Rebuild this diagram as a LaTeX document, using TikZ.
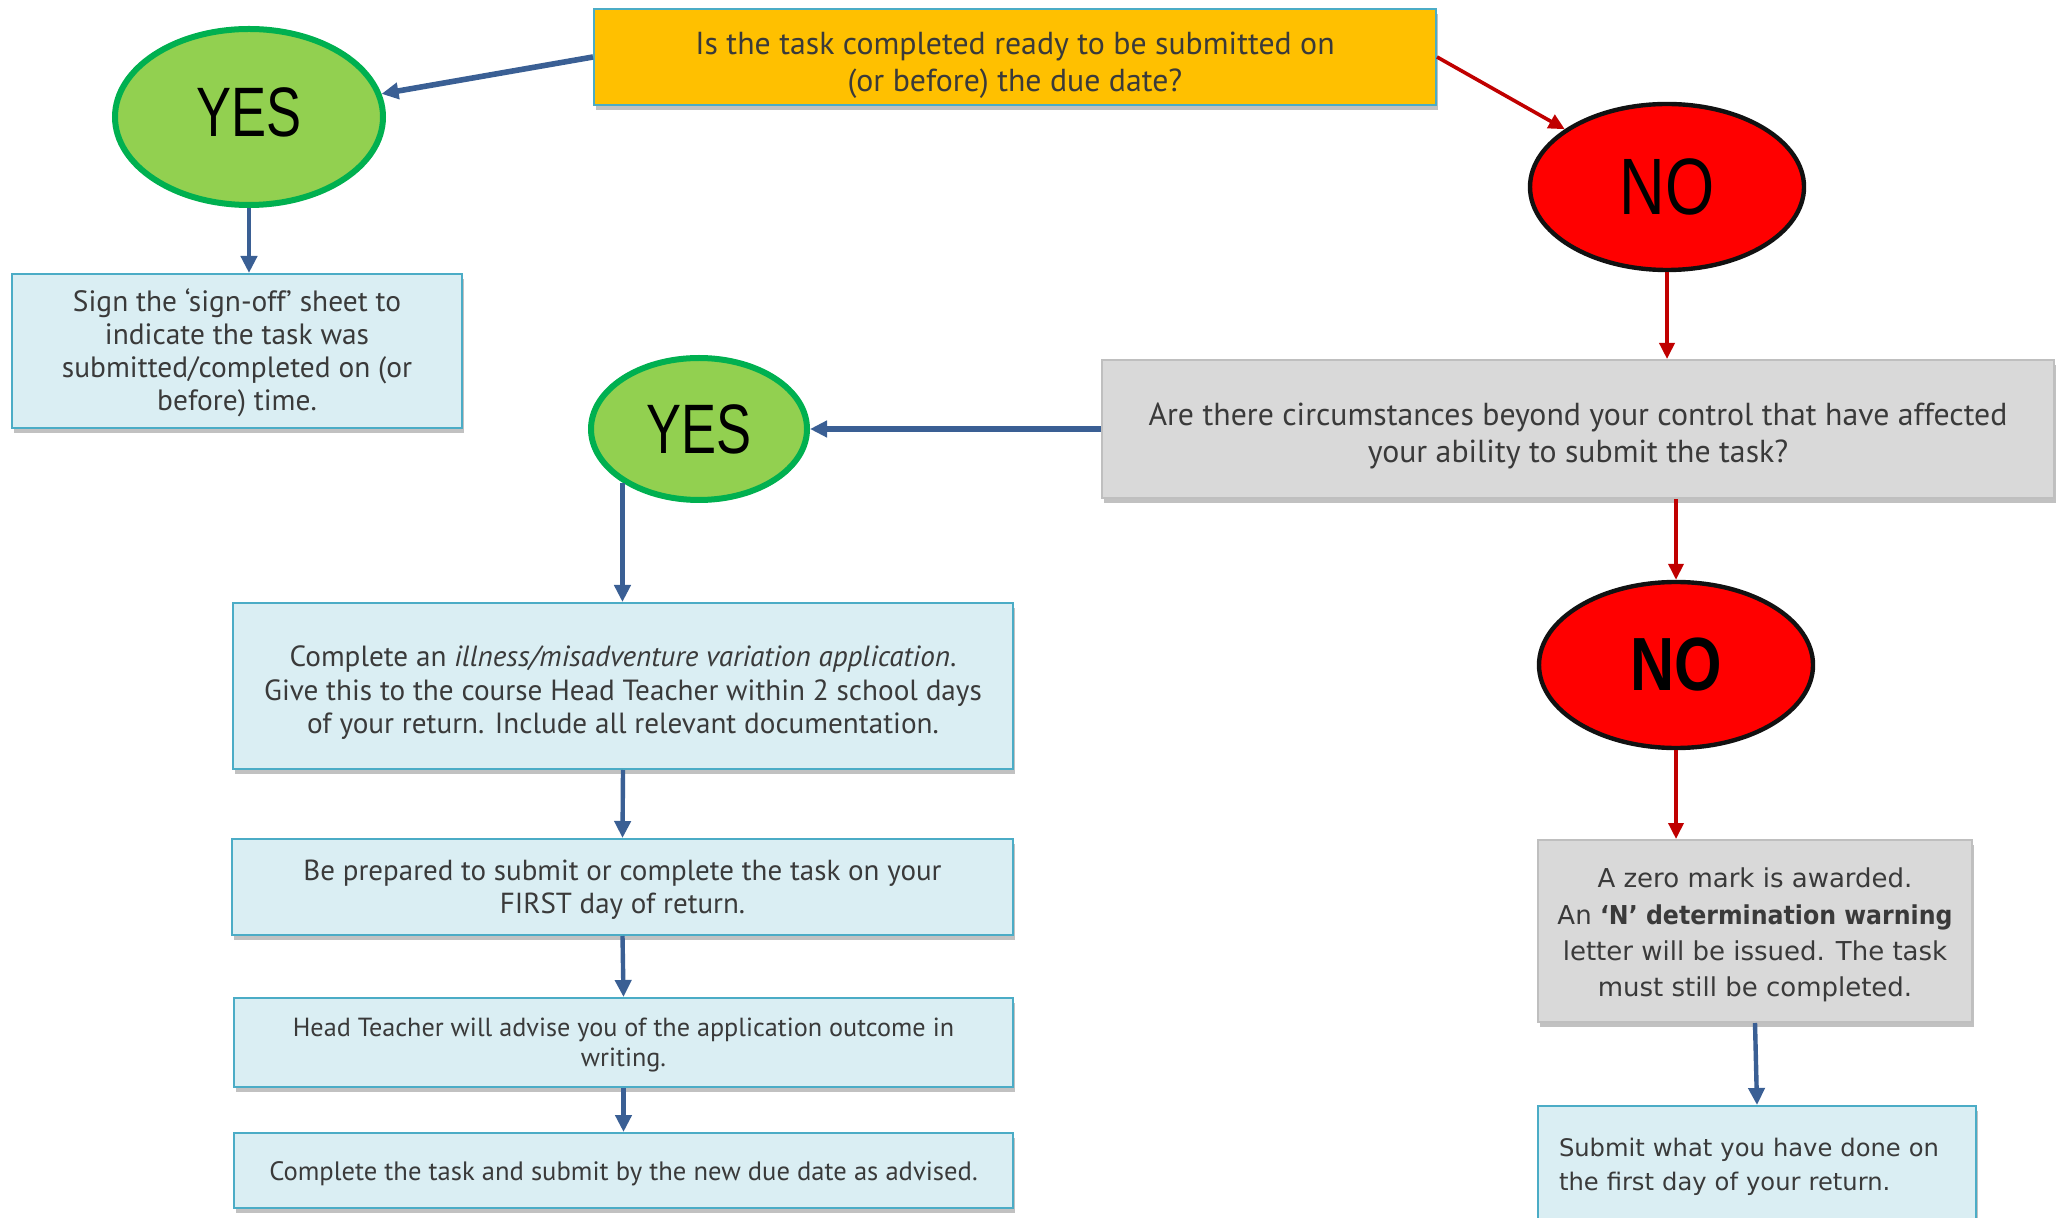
\documentclass[tikz,border=0pt]{standalone}
\usepackage{fontspec}
\usepackage{graphicx}
\setmainfont{PT Sans}
\newfontfamily\verd{DejaVu Sans}
\newfontfamily\arialf{Liberation Sans}
\usetikzlibrary{arrows.meta,shapes.geometric,shadows}
\definecolor{txt}{HTML}{3A3A3A}
\definecolor{qfill}{HTML}{FFC000}
\definecolor{bfill}{HTML}{DAEEF3}
\definecolor{bborder}{HTML}{4BACC6}
\definecolor{gfill}{HTML}{D9D9D9}
\definecolor{gborder}{HTML}{BFBFBF}
\definecolor{lgreen}{HTML}{92D050}
\definecolor{dgreen}{HTML}{00B050}
\definecolor{nred}{HTML}{FF0000}
\definecolor{nblack}{HTML}{111111}
\definecolor{arrblue}{HTML}{3A5F94}
\definecolor{arrred}{HTML}{C00000}
\tikzset{
  box/.style={draw, line width=1pt, align=center, text=txt, inner sep=0pt,
    drop shadow={shadow xshift=1pt, shadow yshift=-2.5pt, opacity=0.35, fill=black!70}},
  bluebox/.style={box, fill=bfill, draw=bborder},
  graybox/.style={box, fill=gfill, draw=gborder},
  yesell/.style={ellipse, draw=dgreen, fill=lgreen, line width=3pt, inner sep=0pt, text=black,
    font=\arialf\fontsize{35}{35}\selectfont},
  noell/.style={ellipse, draw=nblack, fill=nred, line width=2.2pt, inner sep=0pt, text=black},
  barrow/.style={draw=arrblue, line width=2.2pt, -{Triangle[length=8.5pt,width=8pt]}},
  rarrow/.style={draw=arrred, line width=1.8pt, -{Triangle[length=8pt,width=7.5pt]}}
}
\begin{document}
\begin{tikzpicture}[x=0.5pt,y=-0.5pt]
\useasboundingbox (0,0) rectangle (2065,1218);

\node[box, fill=qfill, draw=bborder, minimum width=421pt, minimum height=48pt,
  font=\fontsize{15.9}{18.5}\selectfont] (q1) at (1015,57)
  {\rule{0pt}{19.5pt}Is the task completed ready to be submitted on\\(or before) the due date?};

\node[yesell, minimum width=134pt, minimum height=88pt] (yes1) at (249,117)
  {\raisebox{5pt}{\scalebox{0.75}[1]{YES}}};

\node[bluebox, minimum width=225pt, minimum height=77pt,
  font=\fontsize{14.7}{16.5}\selectfont] (sign) at (237,351)
  {\rule{0pt}{13.6pt}Sign the ‘sign-off’ sheet to\\indicate the task was\\submitted/completed on (or\\before) time.};

\node[noell, minimum width=137pt, minimum height=83pt,
  font=\arialf\fontsize{40}{40}\selectfont] (no1) at (1667,187)
  {\scalebox{0.79}[1]{NO}};

\node[graybox, minimum width=476pt, minimum height=69pt,
  font=\fontsize{15.9}{18.5}\selectfont] (q2) at (1578,429)
  {\rule{0pt}{18.5pt}Are there circumstances beyond your control that have affected\\your ability to submit the task?};

\node[yesell, minimum width=108pt, minimum height=71pt] (yes2) at (699,429)
  {\scalebox{0.75}[1]{YES}};

\node[noell, minimum width=137pt, minimum height=83pt,
  font=\arialf\bfseries\fontsize{37.7}{38}\selectfont] (no2) at (1676,665)
  {\scalebox{0.81}[1]{NO}};

\node[graybox, minimum width=217pt, minimum height=91pt,
  font=\verd\fontsize{13}{18.2}\selectfont] (zero) at (1755,931)
  {\rule{0pt}{14pt}A zero mark is awarded.\\An \scalebox{0.91}[1]{\textbf{‘N’ determination warning}}\\letter will be issued. The task\\must still be completed.};

\node[bluebox, text width=198pt, align=left, inner xsep=10.5pt, minimum height=58pt,
  font=\verd\fontsize{12.1}{17}\selectfont] (submit) at (1757,1164)
  {\rule{0pt}{12pt}Submit what you have done on\\the first day of your return.};

\node[bluebox, minimum width=390pt, minimum height=83pt,
  font=\fontsize{14.6}{16.8}\selectfont] (comp) at (623,686)
  {\rule{0pt}{17pt}Complete an \textit{illness/misadventure variation application}.\\Give this to the course Head Teacher within 2 school days\\of your return. Include all relevant documentation.};

\node[bluebox, minimum width=390.5pt, minimum height=48pt,
  font=\fontsize{14.5}{16.5}\selectfont] (prep) at (622.5,887)
  {\rule{0pt}{13pt}Be prepared to submit or complete the task on your\\FIRST day of return.};

\node[bluebox, minimum width=389.5pt, minimum height=44.5pt,
  font=\fontsize{13.1}{15}\selectfont] (head) at (623.5,1042.5)
  {\rule{0pt}{12pt}Head Teacher will advise you of the application outcome in\\writing.};

\node[bluebox, minimum width=389.5pt, minimum height=37.5pt,
  font=\fontsize{13.3}{15}\selectfont] (task) at (623.5,1170.5)
  {\rule{0pt}{12.5pt}Complete the task and submit by the new due date as advised.};

% connectors
\draw[barrow, line width=2.8pt] (q1.west) -- (yes1);
\draw[barrow] (yes1.south) -- (yes1.south |- sign.north);
\draw[rarrow] (q1.east) -- (no1);
\draw[rarrow] (no1.south) -- (no1.south |- q2.north);
\draw[barrow, line width=2.8pt] (q2.west) -- (yes2.east);
\draw[rarrow] (q2.south -| no2.north) -- (no2.north);
\draw[rarrow] (no2.south) -- (no2.south |- zero.north);
\draw[barrow] (zero.south) -- (submit.north);
\draw[barrow] (yes2.215) -- (yes2.215 |- comp.north);
\draw[barrow] (comp.south) -- (prep.north);
\draw[barrow] (prep.south) -- (head.north);
\draw[barrow] (head.south) -- (task.north);
\end{tikzpicture}
\end{document}
